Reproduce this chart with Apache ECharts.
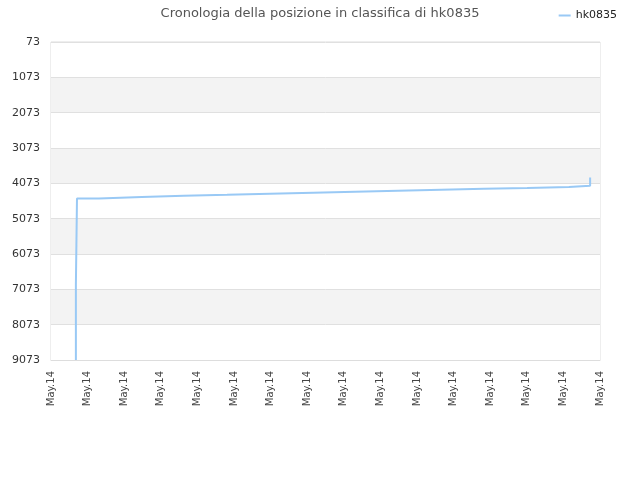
<!DOCTYPE html>
<html>
<head>
<meta charset="utf-8">
<script src="https://cdn.jsdelivr.net/npm/echarts@6/dist/echarts.min.js"></script>
<style>html,body{margin:0;padding:0;background:#fff}#c{width:640px;height:480px}</style>
</head>
<body>
<div id="c"></div>
<script>
var tickLabels = ['May.14','May.14','May.14','May.14','May.14','May.14','May.14','May.14','May.14','May.14','May.14','May.14','May.14','May.14','May.14','May.14'];
var stepX = [0.68, 0.68, 0.71, 1.31, 2.48, 3.63, 4.81, 5.98, 7.16, 8.31, 9.48, 10.66, 11.83, 13.01, 14.15, 14.73];
var rankY = [9073, 6944, 4502, 4463, 4424, 4397, 4369, 4340, 4312, 4283, 4255, 4227, 4204, 4175, 4141, 3906];
var seriesName = 'hk0835';
var titleText = 'Cronologia della posizione in classifica di hk0835';

var data = stepX.map(function (x, i) { return [x, rankY[i]]; });
var chart = echarts.init(document.getElementById('c'));
chart.setOption({
  animation: false,
  backgroundColor: '#fff',
  title: {
    text: titleText, left: 'center', top: 2,
    textStyle: { fontFamily: 'DejaVu Sans', fontSize: 13, fontWeight: 'normal', color: '#555' }
  },
  legend: {
    right: 18, top: 5, icon: 'rect', itemWidth: 12, itemHeight: 2, itemGap: 5,
    textStyle: { fontFamily: 'DejaVu Sans', fontSize: 11, color: '#222' },
    data: [seriesName]
  },
  grid: { left: 51, right: 40, top: 42, bottom: 120, show: true, borderColor: '#ddd', borderWidth: 1 },
  xAxis: {
    type: 'value', min: 0, max: 15, interval: 1,
    axisLine: { show: true, lineStyle: { color: '#ddd' } },
    axisTick: { show: false },
    splitLine: { show: false },
    axisLabel: {
      rotate: 90, fontFamily: 'DejaVu Sans', fontSize: 10, color: '#444', margin: 11,
      formatter: function (v) { return tickLabels[Math.round(v)] || ''; }
    }
  },
  yAxis: {
    type: 'value', inverse: true, min: 73, max: 9073, interval: 1000,
    axisLine: { show: false }, axisTick: { show: false },
    splitLine: { show: true, lineStyle: { color: '#e0e0e0' } },
    splitArea: { show: true, areaStyle: { color: ['#ffffff', '#f3f3f3'] } },
    axisLabel: {
      fontFamily: 'DejaVu Sans', fontSize: 11, color: '#333', margin: 11,
      formatter: function (v) { return String(v); }
    }
  },
  series: [{
    name: seriesName, type: 'line', step: 'end', data: data, symbol: 'none',
    lineStyle: { color: '#99c9f5', width: 2 }, itemStyle: { color: '#99c9f5' }
  }]
});
</script>
</body>
</html>
